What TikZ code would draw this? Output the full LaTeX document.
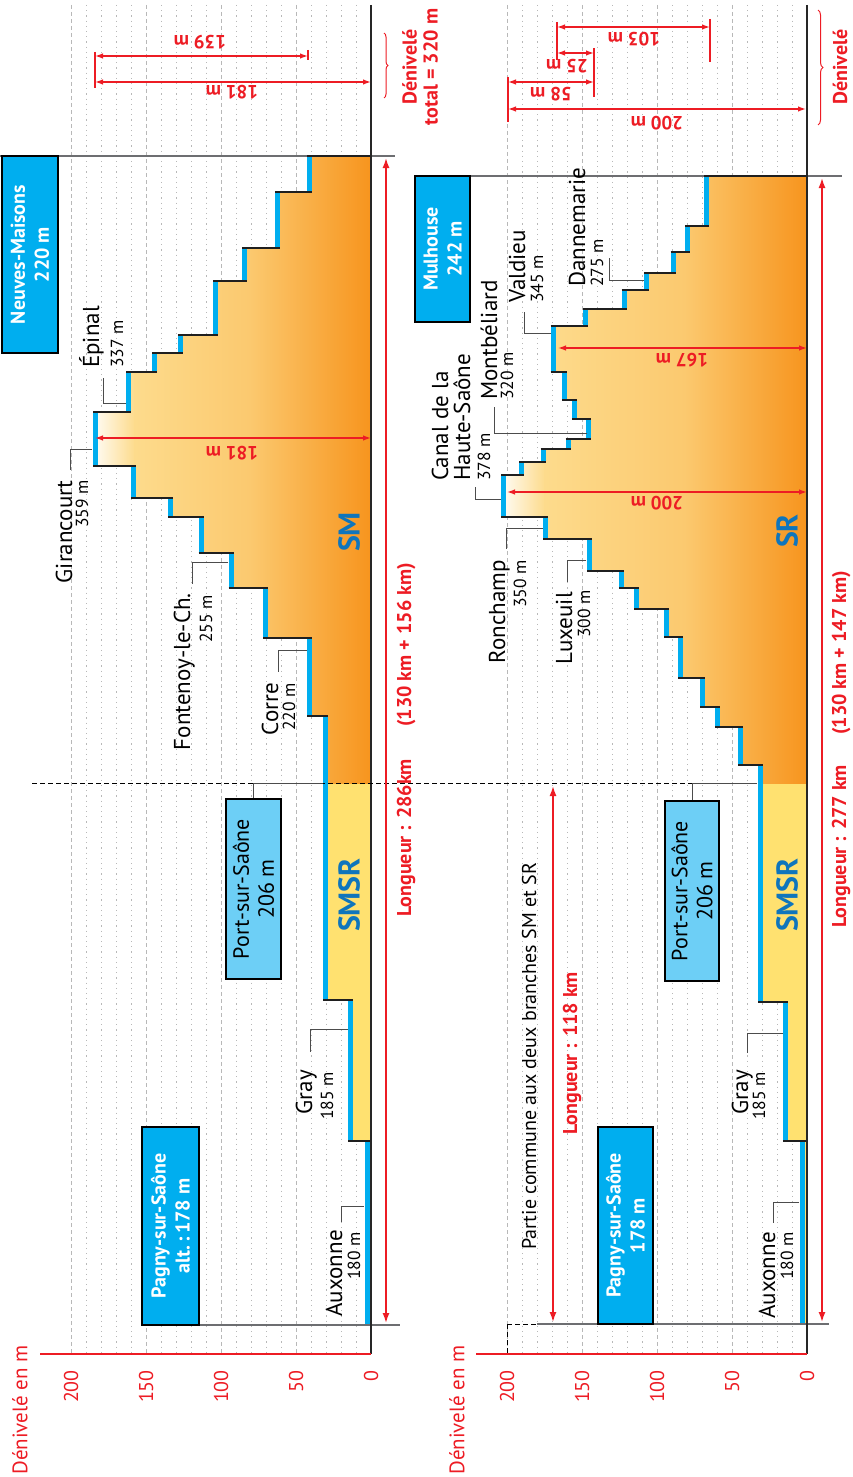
\documentclass[tikz,border=0pt]{standalone}
\usepackage{fontspec}
\setmainfont{PT Sans}
\usetikzlibrary{arrows.meta,decorations.pathreplacing}
\definecolor{cyanb}{HTML}{00AEEF}
\definecolor{lightb}{HTML}{6DCFF6}
\definecolor{redc}{HTML}{ED1C24}
\definecolor{smblue}{HTML}{0F75BC}
\definecolor{yel}{HTML}{FFE170}
\definecolor{gA}{HTML}{FDDB8C}
\definecolor{gB}{HTML}{FBC96F}
\definecolor{gC}{HTML}{F7941D}
\definecolor{gridc}{HTML}{B8B8B8}
\definecolor{framec}{HTML}{6D6E71}
\newcommand\fs[1]{\fontsize{#1}{#1}\selectfont}
\tikzset{
  gdash/.style={draw=gridc, line width=1pt, dash pattern=on 4pt off 3pt},
  gdot/.style={draw=gridc, line width=1pt, dash pattern=on 1.2pt off 4pt},
  reach/.style={draw=cyanb, line width=5pt},
  lock/.style={draw=black!88, line width=2.2pt},
  leader/.style={draw=black!70, line width=1pt},
  frame/.style={draw=framec, line width=1.3pt},
  base/.style={draw=black!85, line width=1.2pt},
  dim/.style={draw=redc, line width=1.3pt, {Latex[length=8pt,width=5.5pt]}-{Latex[length=8pt,width=5.5pt]}},
  bigdim/.style={draw=redc, line width=1.6pt, {Latex[length=10pt,width=7pt]}-{Latex[length=10pt,width=7pt]}},
  redtick/.style={draw=redc, line width=1.3pt},
  dimlbl/.style={text=redc, font=\bfseries\fs{19}, rotate=180, inner sep=0},
  lbl/.style={inner sep=0, rotate=90, font=\fs{23}},
  alt/.style={inner sep=0, rotate=90, font=\fs{17.5}},
  lng/.style={inner sep=0, rotate=90, text=redc, font=\bfseries\fs{20}},
  smlbl/.style={inner sep=0, rotate=90, text=smblue, font=\bfseries\fs{30}},
  tick/.style={inner sep=0, rotate=90, anchor=east, text=redc, font=\fs{20}},
  boxA/.style={draw=black, line width=1.2pt, fill=cyanb, text=white, font=\bfseries\fontsize{20}{24}\selectfont, rotate=90, align=center, inner sep=0},
  boxB/.style={draw=black, line width=1.2pt, fill=lightb, font=\fontsize{22}{25}\selectfont, rotate=90, align=center, inner sep=0}
}
\begin{document}
\begin{tikzpicture}[x=1pt,y=-1pt]
\useasboundingbox (0,0) rectangle (852,1477);
% ---------- grid ----------
\foreach \x in {71,146,221,296,507,582,657,732} \draw[gdash] (\x,5) -- (\x,1354);
\foreach \b in {71,146,221,296,507,582,657,732}
  \foreach \k in {15,30,45,60} \draw[gdot] (\b+\k,5) -- (\b+\k,1354);
% ---------- upper fill ----------
\begin{scope}
\clip (371,1325) -- (367.5,1325) -- (367.5,1141) -- (350.5,1141) -- (350.5,1000) -- (325.5,1000) -- (325.5,716) -- (309.5,716) -- (309.5,638) -- (265.5,638) -- (265.5,588) -- (231,588) -- (231,553) -- (201,553) -- (201,517) -- (170.5,517) -- (170.5,498) -- (133.5,498) -- (133.5,466) -- (95.5,466) -- (95.5,412) -- (128.5,412) -- (128.5,372) -- (154.5,372) -- (154.5,353) -- (180.5,353) -- (180.5,335) -- (215.5,335) -- (215.5,281) -- (244.5,281) -- (244.5,248) -- (277.5,248) -- (277.5,192) -- (309.5,192) -- (309.5,156) -- (371,156) -- cycle;
\fill[yel] (0,783) rectangle (380,1330);
\shade[left color=white, right color=gA] (90,150) rectangle (135,783);
\shade[left color=gA, right color=gB] (134.5,150) rectangle (250,783);
\shade[left color=gB, right color=gC] (249.5,150) rectangle (372,783);
\end{scope}
% ---------- lower fill ----------
\begin{scope}
\clip (807,1324) -- (802,1324) -- (802,1141) -- (785.5,1141) -- (785.5,1002) -- (760.5,1002) -- (760.5,765) -- (740.5,765) -- (740.5,727) -- (717.5,727) -- (717.5,707) -- (702.5,707) -- (702.5,678) -- (680.5,678) -- (680.5,637) -- (666.5,637) -- (666.5,609) -- (636.5,609) -- (636.5,588) -- (621.5,588) -- (621.5,571) -- (589.5,571) -- (589.5,539) -- (545.5,539) -- (545.5,517) -- (503.5,517) -- (503.5,475) -- (521.8,475) -- (521.8,462) -- (543.2,462) -- (543.2,449) -- (568.2,449) -- (568.2,439.3) -- (588.8,439.3) -- (588.8,419.3) -- (574.8,419.3) -- (574.8,400) -- (564.8,400) -- (564.8,372.3) -- (553.2,372.3) -- (553.2,325.7) -- (585.2,325.7) -- (585.2,309.3) -- (624.2,309.3) -- (624.2,290) -- (646.8,290) -- (646.8,272.7) -- (673.2,272.7) -- (673.2,252.3) -- (687.5,252.3) -- (687.5,225.7) -- (706.8,225.7) -- (706.8,176) -- (807,176) -- cycle;
\fill[yel] (430,783) rectangle (815,1330);
\shade[left color=white, right color=gA] (498,170) rectangle (545,783);
\shade[left color=gA, right color=gB] (544.5,170) rectangle (685,783);
\shade[left color=gB, right color=gC] (684.5,170) rectangle (808,783);
\end{scope}
% ---------- reaches ----------
\foreach \x/\ya/\yb in {367.5/1325/1141, 350.5/1141/1000, 325.5/1000/716, 309.5/716/638, 265.5/638/588, 231/588/553, 201/553/517, 170.5/517/498, 133.5/498/466, 95.5/466/412, 128.5/412/372, 154.5/372/353, 180.5/353/335, 215.5/335/281, 244.5/281/248, 277.5/248/192, 309.5/192/156,
 802/1324/1141, 785.5/1141/1002, 760.5/1002/765, 740.5/765/727, 717.5/727/707, 702.5/707/678, 680.5/678/637, 666.5/637/609, 636.5/609/588, 621.5/588/571, 589.5/571/539, 545.5/539/517, 503.5/517/475, 521.8/475/462, 543.2/462/449, 568.2/449/439.3, 588.8/439.3/419.3, 574.8/419.3/400, 564.8/400/372.3, 553.2/372.3/325.7, 585.2/325.7/309.3, 624.2/309.3/290, 646.8/290/272.7, 673.2/272.7/252.3, 687.5/252.3/225.7, 706.8/225.7/176}
  \draw[reach] (\x,\ya) -- (\x,\yb);
% ---------- locks ----------
\foreach \y/\xa/\xb in {1141/348/371, 1000/323/353, 716/307/328, 638/263/312, 588/228.5/268, 553/198.5/233.5, 517/168/203.5, 498/131/173, 466/93/136, 412/93/131, 372/126/157, 353/152/183, 335/178/218, 281/213/247, 248/242/280, 192/275/312, 156/307/371,
 1141/783/807, 1002/758/788, 765/738/763, 727/715/743, 707/700/720, 678/678/705, 637/664/683, 609/634/669, 588/619/639, 571/587/624, 539/543/592, 517/501/548, 475/501/524.3, 462/519.3/545.7, 449/540.7/570.7, 439.3/565.7/591.3, 419.3/572.3/591.3, 400/562.3/577.3, 372.3/550.7/567.3, 325.7/550.7/587.7, 309.3/582.7/626.7, 290/621.7/649.3, 272.7/644.3/675.7, 252.3/670.7/690, 225.7/685/709.3, 176/704.3/807}
  \draw[lock] (\xa,\y) -- (\xb,\y);
% ---------- frame ----------
\draw[frame] (0,156) -- (307,156);
\draw[frame] (371,156) -- (395,156);
\draw[frame] (142,1325) -- (400,1325);
\draw[frame] (415,176) -- (704,176);
\draw[frame] (807,176) -- (842,176);
\draw[frame] (537,1324) -- (829,1324);
\draw[base] (371,5) -- (371,1354);
\draw[base] (807,5) -- (807,1354);
\draw[black, line width=1pt, dash pattern=on 5pt off 3pt] (32,783) -- (757,783);
\draw[black, line width=1pt, dash pattern=on 5pt off 3pt] (507,1324) -- (537,1324) (507,1324) -- (507,1354);
% ---------- axes ----------
\draw[redc, line width=1.2pt] (40,1354) -- (371,1354);
\draw[redc, line width=1.2pt] (476,1354) -- (807,1354);
\foreach \v/\x in {200/71,150/146,100/221,50/296,0/371} \node[tick] (tu\v) at (\x,1370) {\v};
\foreach \v/\x in {200/507,150/582,100/657,50/732,0/807} \node[tick] (tl\v) at (\x,1370) {\v};
\node[inner sep=0, rotate=90, text=redc, font=\fs{21}] (denU) at (20,1410) {Dénivelé en m};
\node[inner sep=0, rotate=90, text=redc, font=\fs{21}] (denL) at (457,1410) {Dénivelé en m};
% ---------- boxes ----------
\node[boxA, minimum width=197pt, minimum height=56pt] (nm) at (30,254.5) {Neuves-Maisons\\220 m};
\node[boxA, minimum width=198pt, minimum height=57pt] (pagU) at (170.5,1226) {Pagny-sur-Saône\\alt.\,:\,178 m};
\node[boxB, minimum width=180pt, minimum height=55pt] (portU) at (253.5,889) {Port-sur-Saône\\206 m};
\node[boxA, minimum width=146pt, minimum height=55pt] (mul) at (442.5,249) {Mulhouse\\242 m};
\node[boxA, minimum width=197pt, minimum height=55pt] (pagL) at (625.5,1225.5) {Pagny-sur-Saône\\178 m};
\node[boxB, minimum width=180pt, minimum height=54pt] (portL) at (692,891) {Port-sur-Saône\\206 m};
% ---------- leaders ----------
\draw[leader] (323,783) -| (portU.east);
\draw[leader] (757,783) -| (portL.east);
\draw[leader] (364,1206) -- (341,1206) -- (341,1222);
\draw[leader] (348,1029) -- (310,1029) -- (310,1052);
\draw[leader] (307,650) -- (278,650) -- (278,672);
\draw[leader] (228,562) -- (192,562) -- (192,584);
\draw[leader] (92,449) -- (70,449) -- (70,470);
\draw[leader] (126,403) -- (103,403) -- (103,378);
\draw[leader] (799,1202) -- (773,1202) -- (773,1223);
\draw[leader] (783,1033) -- (747,1033) -- (747,1053);
\draw[leader] (543,528) -- (506,528) -- (506,549);
\draw[leader] (586,560) -- (567,560) -- (567,582);
\draw[leader] (501,499) -- (475,499) -- (475,487);
\draw[leader] (587,433) -- (494,433) -- (494,407);
\draw[leader] (551,333) -- (524,333) -- (524,312);
\draw[leader] (644,280) -- (609,280) -- (609,258);
% ---------- place labels ----------
\node[lbl, anchor=base east] (auxU) at (342,1230) {Auxonne};
\node[alt, anchor=base east] (auxUa) at (360,1232) {180 m};
\node[lbl, anchor=base east] (grayU) at (312,1070) {Gray};
\node[alt, anchor=base east] (grayUa) at (333,1072) {185 m};
\node[lbl, anchor=base east] (corU) at (278,683) {Corre};
\node[alt, anchor=base east] (corUa) at (295,683) {220 m};
\node[lbl, anchor=base east] (fonU) at (190,593) {Fontenoy-le-Ch.};
\node[alt, anchor=base east] (fonUa) at (212,595) {255 m};
\node[lbl, anchor=base east] (girU) at (72,480) {Girancourt};
\node[alt, anchor=base east] (girUa) at (88,480) {359 m};
\node[lbl, anchor=base west] (epiU) at (99,368) {Épinal};
\node[alt, anchor=base west] (epiUa) at (123,368) {337 m};
\node[lbl, anchor=base east] (auxL) at (775,1232) {Auxonne};
\node[alt, anchor=base east] (auxLa) at (793,1232) {180 m};
\node[lbl, anchor=base east] (grayL) at (748,1070) {Gray};
\node[alt, anchor=base east] (grayLa) at (765,1072) {185 m};
\node[lbl, anchor=base east] (ronL) at (505,560) {Ronchamp};
\node[alt, anchor=base east] (ronLa) at (526,560) {350 m};
\node[lbl, anchor=base east] (luxL) at (572,592) {Luxeuil};
\node[alt, anchor=base east] (luxLa) at (590,590) {300 m};
\node[lbl, anchor=base west] (canL1) at (448,481) {Canal de la};
\node[lbl, anchor=base west] (canL2) at (470,481) {Haute-Saône};
\node[alt, anchor=base west] (canLa) at (490,481) {378 m};
\node[lbl, anchor=base west] (monL) at (497,400) {Montbéliard};
\node[alt, anchor=base west] (monLa) at (513,400) {320 m};
\node[lbl, anchor=base west] (valL) at (525,303) {Valdieu};
\node[alt, anchor=base west] (valLa) at (543,303) {345 m};
\node[lbl, anchor=base west] (danL) at (585,287) {Dannemarie};
\node[alt, anchor=base west] (danLa) at (603,287) {275 m};
% ---------- branch labels ----------
\node[smlbl] (smU) at (349,532) {SM};
\node[smlbl] (smsrU) at (349,895) {SMSR};
\node[smlbl] (srL) at (787,531) {SR};
\node[smlbl] (smsrL) at (787,895) {SMSR};
% ---------- lengths ----------
\draw[bigdim] (386,1323) -- (386,158);
\draw[bigdim] (822,1322) -- (822,178);
\draw[bigdim] (553,1322) -- (553,786);
\node[lng, anchor=base west] (lenU) at (411,917) {Longueur : 286km};
\node[lng, anchor=base west] (lenU2) at (411,727) {(130 km + 156 km)};
\node[lng, anchor=base west] (lenL) at (846,928) {Longueur : 277 km};
\node[lng, anchor=base west] (lenL2) at (846,735) {(130 km + 147 km)};
\node[lng, anchor=base west] (lenC) at (577,1135) {Longueur : 118 km};
\node[lbl, anchor=base west, font=\fs{20}] (part) at (536,1250) {Partie commune aux deux branches SM et SR};
% ---------- heights inside ----------
\draw[dim] (95,438) -- (371,438);
\node[dimlbl] (h181U) at (232,453) {181 m};
\draw[dim] (558,348) -- (807,348);
\node[dimlbl] (h167L) at (682,360) {167 m};
\draw[dim] (507,492) -- (807,492);
\node[dimlbl] (h200L) at (657,503) {200 m};
% ---------- top dims upper ----------
\draw[redtick] (95,52) -- (95,88);
\draw[redtick] (308,50) -- (308,60);
\draw[dim] (95,56) -- (308,56);
\draw[dim] (95,82) -- (371,82);
\node[dimlbl] (t139) at (200,42) {139 m};
\node[dimlbl] (t181) at (232,92) {181 m};
\draw[redc, line width=1pt, decorate, decoration={brace, amplitude=4pt}] (384,33) -- (384,98);
\node[inner sep=0, rotate=90, text=redc, font=\bfseries\fontsize{20}{21}\selectfont, align=center] (dtot) at (420,67) {Dénivelé\\total = 320 m};
% ---------- top dims lower ----------
\draw[redtick] (508,77) -- (508,122);
\draw[redtick] (594,48) -- (594,97);
\draw[redtick] (557,22) -- (557,60);
\draw[redtick] (710,19) -- (710,62);
\draw[dim] (508,109) -- (806,109);
\draw[dim] (508,82) -- (594,82);
\draw[dim] (557,53) -- (594,53);
\draw[dim] (557,27) -- (710,27);
\node[dimlbl] (t200) at (657,123) {200 m};
\node[dimlbl] (t58) at (551,94) {58 m};
\node[dimlbl] (t25) at (567,66) {25 m};
\node[dimlbl] (t103) at (634,39) {103 m};
\draw[redc, line width=1pt, decorate, decoration={brace, amplitude=5pt}] (818,10) -- (818,125);
\node[inner sep=0, rotate=90, text=redc, font=\bfseries\fs{20}] (dtotL) at (840,67) {Dénivelé};
\end{tikzpicture}
\end{document}
